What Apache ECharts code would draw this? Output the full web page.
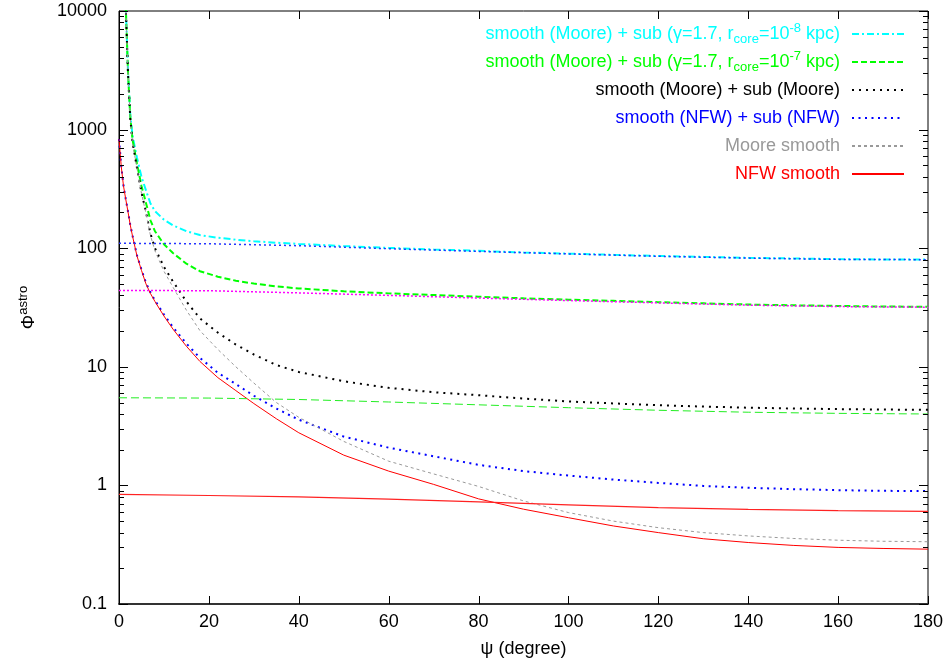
<!DOCTYPE html>
<html><head><meta charset="utf-8">
<script src="https://cdn.jsdelivr.net/npm/echarts@6/dist/echarts.min.js"></script>
<style>html,body{margin:0;padding:0;background:#fff}#c{width:950px;height:662px}</style>
</head><body><div id="c"></div>
<script>
// ---- data ----
const PSI = [0, 0.5, 1, 1.5, 2, 2.5, 3, 4, 5, 6, 7, 8, 10, 12, 15, 18, 22, 26, 30, 35, 40, 50, 60, 70, 80, 90, 100, 110, 120, 130, 140, 150, 160, 170, 180];
const CYAN_MOORE_SUB8 = [null, null, null, 11100, 3110, 1360, 890, 580, 400, 307, 238, 205, 174, 156, 139, 129, 122.5, 118, 114.5, 111.2, 108.7, 104.2, 100.6, 97.6, 95, 92, 90, 87.9, 86, 84.5, 82.9, 81.9, 80.9, 80.4, 80.3];
const GREEN_MOORE_SUB7 = [null, null, null, 11050, 3045, 1295, 825, 515, 335, 241, 172, 139, 108, 91, 74, 64, 57.5, 53.2, 50.3, 47.6, 45.8, 43.3, 41.6, 40.3, 39.0, 37.8, 36.8, 36.0, 35.1, 34.3, 33.5, 33.0, 32.6, 32.2, 32.1];
const MOORE_SUB_MOORE = [null, null, null, 11000, 3005, 1255, 785, 475, 295, 202, 133, 100, 69.5, 52.5, 35.5, 25.6, 19.4, 15.4, 12.7, 10.35, 9.05, 7.55, 6.65, 6.1, 5.76, 5.4, 5.1, 4.91, 4.74, 4.62, 4.52, 4.45, 4.4, 4.36, 4.34];
const NFW_SUB_NFW = [831, 491, 336, 260, 204, 158, 128, 87, 66, 51, 42.3, 36.3, 27.6, 21.6, 15.7, 11.9, 8.9, 7.15, 5.7, 4.45, 3.58, 2.58, 2.08, 1.76, 1.49, 1.32, 1.21, 1.12, 1.05, 0.99, 0.955, 0.93, 0.912, 0.9, 0.895];
const MOORE_SMOOTH = [null, null, null, 11000, 3000, 1250, 780, 470, 290, 197, 128, 95, 64, 47, 30, 20.2, 14, 10, 7.3, 5.0, 3.75, 2.35, 1.6, 1.25, 0.98, 0.74, 0.59, 0.5, 0.44, 0.4, 0.375, 0.357, 0.345, 0.338, 0.335];
const NFW_SMOOTH = [830, 490, 335, 259, 203, 157, 127, 86, 65, 50, 41.5, 35.5, 26.8, 20.8, 14.9, 11.1, 8.1, 6.3, 4.9, 3.65, 2.78, 1.8, 1.32, 1.02, 0.77, 0.63, 0.534, 0.455, 0.40, 0.355, 0.33, 0.312, 0.30, 0.294, 0.29];

const PSI_SUB = [0, 20, 40, 60, 80, 100, 120, 140, 160, 180];
const SUB_CORE8 = [110, 109, 105, 99, 94, 89.5, 85.5, 82.5, 80.5, 80];
const SUB_CORE7 = [44, 43.8, 42, 40, 38, 36.2, 34.6, 33.1, 32.2, 31.8];
const SUB_MOORE = [5.48, 5.45, 5.3, 5.05, 4.78, 4.52, 4.3, 4.14, 4.05, 4.0];
const SUB_NFW = [0.84, 0.822, 0.80, 0.765, 0.725, 0.685, 0.65, 0.627, 0.612, 0.605];

const X_TICKS = [0, 20, 40, 60, 80, 100, 120, 140, 160, 180];
const Y_MAJOR = [0.1, 1, 10, 100, 1000, 10000];
const Y_MINOR = [];
for (let e = -1; e < 4; e++) for (let m = 2; m <= 9; m++) Y_MINOR.push(+(m * Math.pow(10, e)).toPrecision(3));

const NAMES = [
  'smooth (Moore) + sub (γ=1.7, rcore=10-8 kpc)',
  'smooth (Moore) + sub (γ=1.7, rcore=10-7 kpc)',
  'smooth (Moore) + sub (Moore)',
  'smooth (NFW) + sub (NFW)',
  'Moore smooth',
  'NFW smooth'
];

// ---- chart ----
const FONT = '"Liberation Sans", Arial, Helvetica, sans-serif';
const pairs = (xs, ys) => xs.map((x, i) => [x, ys[i]]);
const chart = echarts.init(document.getElementById('c'), null, {renderer: 'canvas'});

function line(name, xs, ys, color, width, type, z) {
  return {
    name, type: 'line', data: pairs(xs, ys),
    symbol: 'none', showSymbol: false, smooth: false, clip: true, z,
    lineStyle: {color, width, type}, itemStyle: {color}, emphasis: {disabled: true}
  };
}

// inward tick marks on all four sides of the frame, placed through the axes' own scales
function tickSeries() {
  const data = [];
  Y_MAJOR.forEach(v => data.push([X_TICKS[0], v, 9, 0]));
  Y_MINOR.forEach(v => data.push([X_TICKS[0], v, 5, 0]));
  X_TICKS.forEach(v => data.push([v, Y_MAJOR[0], 8, 1]));
  return {
    type: 'custom', name: 'ticks', data, silent: true, clip: false, z: 30,
    encode: {x: 0, y: 1},
    renderItem: function (params, api) {
      const cs = params.coordSys;
      const len = api.value(2);
      const st = {stroke: '#000', lineWidth: 1};
      const pt = api.coord([api.value(0), api.value(1)]);
      if (api.value(3) === 0) {
        const y = Math.round(pt[1]) + 0.5;
        return {type: 'group', children: [
          {type: 'line', shape: {x1: cs.x, y1: y, x2: cs.x + len, y2: y}, style: st},
          {type: 'line', shape: {x1: cs.x + cs.width, y1: y, x2: cs.x + cs.width - len, y2: y}, style: st}
        ]};
      }
      const x = Math.round(pt[0]) + 0.5;
      return {type: 'group', children: [
        {type: 'line', shape: {x1: x, y1: cs.y + cs.height, x2: x, y2: cs.y + cs.height - len}, style: st},
        {type: 'line', shape: {x1: x, y1: cs.y, x2: x, y2: cs.y + len}, style: st}
      ]};
    }
  };
}

const sub = (c) => ({color: c, fontSize: 13, fontFamily: FONT, lineHeight: 14, padding: [10, 0, 0, 0]});
const sup = (c) => ({color: c, fontSize: 13, fontFamily: FONT, lineHeight: 14, padding: [0, 0, 11, 0]});
const base = (c) => ({color: c, fontSize: 18, fontFamily: FONT, lineHeight: 28});

const option = {
  animation: false,
  backgroundColor: '#fff',
  grid: {left: 119, right: 22, top: 11, bottom: 58, containLabel: false, outerBoundsMode: 'none',
         show: true, borderColor: '#000', borderWidth: 1, backgroundColor: 'transparent'},
  xAxis: {type: 'value', position: 'bottom', min: X_TICKS[0], max: X_TICKS[X_TICKS.length - 1], interval: 20,
     axisLine: {show: true, onZero: false, lineStyle: {color: '#333', width: 2}},
     axisTick: {show: false},
     axisLabel: {color: '#000', fontSize: 18, fontFamily: FONT, margin: 9},
     splitLine: {show: false},
     name: 'ψ (degree)', nameLocation: 'middle', nameGap: 36,
     nameTextStyle: {color: '#000', fontSize: 18, fontFamily: FONT}},
  yAxis: {type: 'log', logBase: 10, min: Y_MAJOR[0], max: Y_MAJOR[Y_MAJOR.length - 1], position: 'left',
     axisLine: {show: true, onZero: false, lineStyle: {color: '#000', width: 1}},
     axisTick: {show: false},
     axisLabel: {color: '#000', fontSize: 18, fontFamily: FONT, margin: 12,
       formatter: v => String(+Number(v).toPrecision(3))},
     splitLine: {show: false},
     name: '{p|Φ}{s|astro}', nameLocation: 'middle', nameGap: 78, nameRotate: 90,
     nameTextStyle: {color: '#000', rich: {
       p: {fontSize: 18, fontFamily: FONT, color: '#000', lineHeight: 24},
       s: {fontSize: 13, fontFamily: FONT, color: '#000', lineHeight: 14, padding: [0, 0, 12, 0]}}}},
  legend: {
    orient: 'vertical', right: 45, top: 20, align: 'right', padding: 0,
    itemWidth: 52, itemHeight: 14, itemGap: 0, selectedMode: false,
    itemStyle: {opacity: 0},
    data: [
      {name: NAMES[0], textStyle: {color: '#00ffff'}},
      {name: NAMES[1], textStyle: {color: '#00ff00'}},
      {name: NAMES[2], textStyle: {color: '#000000'}},
      {name: NAMES[3], textStyle: {color: '#0000ff'}},
      {name: NAMES[4], textStyle: {color: '#999999'}},
      {name: NAMES[5], textStyle: {color: '#ff0000'}}
    ],
    formatter: function (name) {
      if (name === NAMES[0]) return '{c|smooth (Moore) + sub (γ=1.7, r}{cs|core}{c|=10}{cp|-8}{c| kpc)}';
      if (name === NAMES[1]) return '{g|smooth (Moore) + sub (γ=1.7, r}{gs|core}{g|=10}{gp|-7}{g| kpc)}';
      return name;
    },
    textStyle: {fontSize: 18, fontFamily: FONT, lineHeight: 28, padding: [0, 7, 0, 0],
      rich: {c: base('#00ffff'), cs: sub('#00ffff'), cp: sup('#00ffff'),
             g: base('#00ff00'), gs: sub('#00ff00'), gp: sup('#00ff00')}}
  },
  series: [
    line(NAMES[0], PSI, CYAN_MOORE_SUB8, '#00ffff', 2, [7, 3, 2, 3], 10),
    line(NAMES[1], PSI, GREEN_MOORE_SUB7, '#00ff00', 2, [6, 3], 11),
    line(NAMES[2], PSI, MOORE_SUB_MOORE, '#000000', 2, [2, 5], 12),
    line(NAMES[3], PSI, NFW_SUB_NFW, '#0000ff', 2, [2, 4.5], 13),
    line(NAMES[4], PSI, MOORE_SMOOTH, '#999999', 1, [3, 3], 14),
    line(NAMES[5], PSI, NFW_SMOOTH, '#ff0000', 1, 'solid', 15),
    line('sub core 1e-8', PSI_SUB, SUB_CORE8, '#2233ff', 1.5, [2, 3], 16),
    line('sub core 1e-7', PSI_SUB, SUB_CORE7, '#ff00ff', 1.5, [2, 2], 17),
    line('sub Moore', PSI_SUB, SUB_MOORE, '#22ee22', 1, [8, 4], 18),
    line('sub NFW', PSI_SUB, SUB_NFW, '#ff2222', 1.2, 'solid', 19),
    tickSeries()
  ]
};
chart.setOption(option);
</script>
</body></html>
